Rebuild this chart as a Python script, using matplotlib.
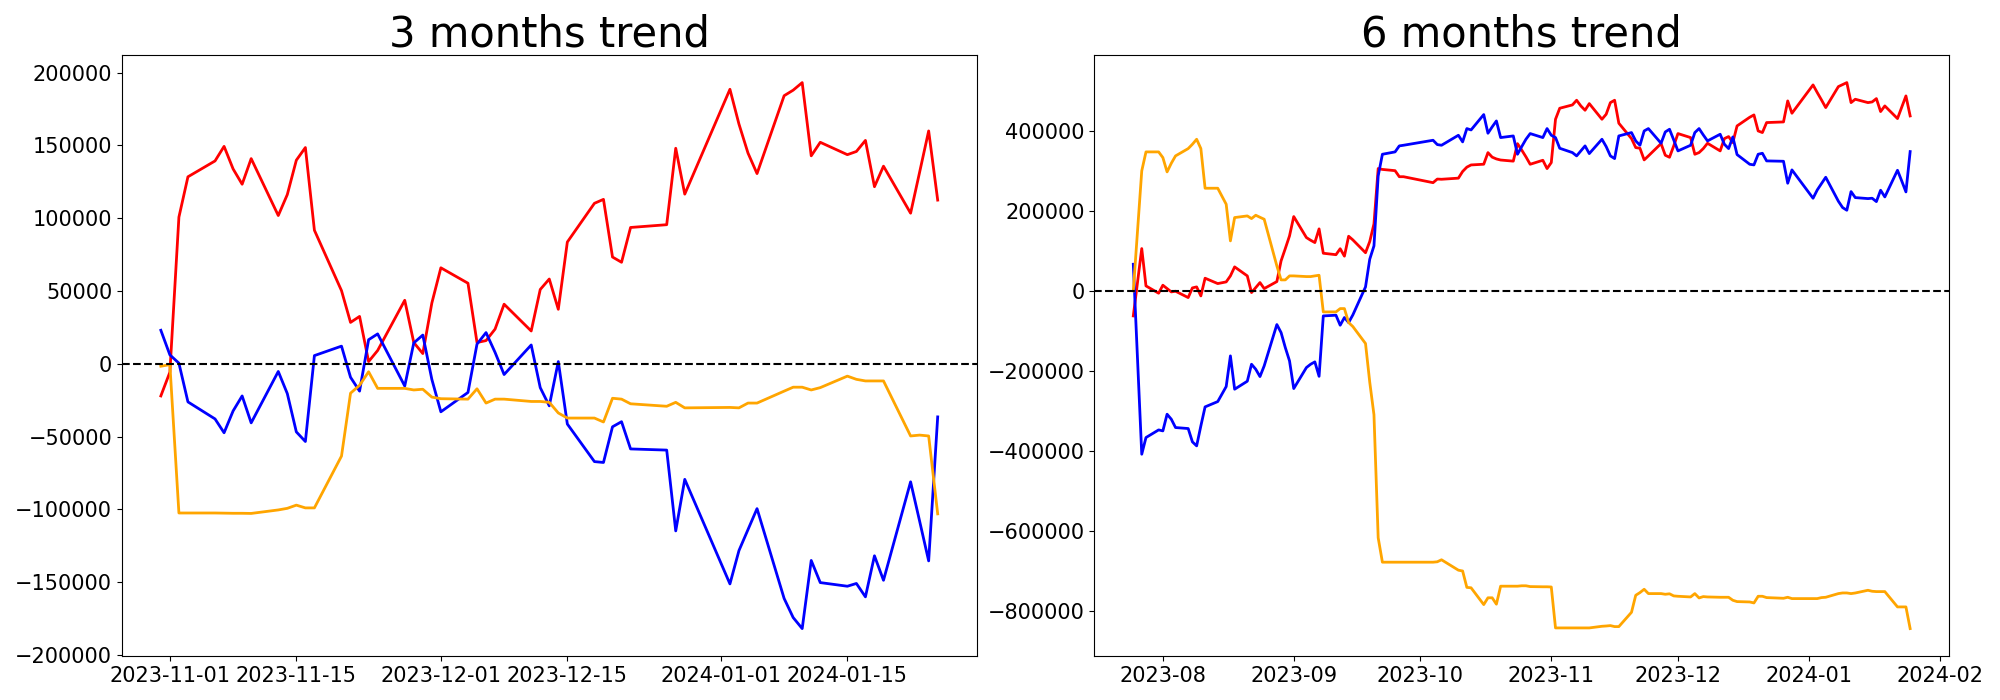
import pandas as pd
import matplotlib
matplotlib.use("Agg")
import matplotlib.pyplot as plt
import matplotlib.dates as mdates

# market closed days inside the window (KRX calendar)
krx_holidays = ["2023-08-15", "2023-09-28", "2023-09-29", "2023-10-02", "2023-10-03",
                "2023-10-09", "2023-12-25", "2023-12-29", "2024-01-01"]

dates_3m = pd.bdate_range("2023-10-31", "2024-01-25", freq="C", holidays=krx_holidays)
dates_6m = pd.bdate_range("2023-07-25", "2024-01-25", freq="C", holidays=krx_holidays)

# ---- 3 months (cumulative net) ----
red_3m = [-22000, -5700, 100800, 128500, 139400, 149400, 133900, 123400, 141000,
          101900, 116300, 139900, 148600, 91800, 50300, 28500, 32600, 1600, 9200,
          43700, 14700, 7100, 41800, 66000, 55400, 14700, 16000, 23900, 41000,
          22600, 51100, 58300, 37500, 83700, 110300, 113000, 73400, 69800, 93700,
          95600, 148100, 116600, 188600, 164700, 144800, 130700,
          184200, 188000, 193200, 142900, 152200, 143700, 145900, 153500, 121700, 135800,
          103500, 131700, 160000, 112500]

blue_3m = [23100, 6200, 500, -26100, -37800, -47300, -32300, -22000, -40500,
           -5200, -20400, -46700, -53300, 5700, 12200, -9200, -18700, 16600, 20600,
           -15200, 14400, 19800, -10600, -32900, -19600, 13600, 21500, 7900, -7300,
           13000, -16300, -28800, 1600, -41300, -67100, -67700, -43200, -39700, -58400,
           -59200, -114700, -79300, -151100, -128200, -113800, -99400,
           -161100, -174200, -181800, -135000, -150200, -152700, -150800, -160000, -131800, -148600,
           -81000, -108000, -135300, -36400]

orange_3m = [-1600, -500, -102400, -102400, -102400, -102500, -102600, -102600, -102700,
             -100300, -99200, -97000, -98900, -98900, -63300, -20100, -14700, -5400, -16800,
             -16800, -17900, -17400, -22800, -23900, -24200, -17100, -26900, -24200, -24200,
             -25800, -25800, -26400, -33700, -37200, -37200, -39900, -23600, -24200, -27400,
             -29100, -26400, -30200, -29900, -30200, -26900, -26900,
             -18700, -16000, -16000, -17900, -16300, -8400, -10600, -11700, -11700, -11700,
             -49500, -48900, -49500, -103000]

# ---- 6 months (cumulative net) ----
red_6m = [-62500, 21700, 105800, 12500, -5800,
          14200, 5800, -2500, -800, -16700, 7500, 10000, -12500, 31700, 18300, 22500,
          37500, 60000, 37500, -4200, 8300, 20800, 5800, 23300, 75000, 105800, 137500,
          185800, 133300, 126600, 120800, 155000, 94100, 90500, 105400, 86800, 136600,
          127500, 95400, 123400, 167500, 305800, 303600, 300500, 285400, 285400,
          270500, 279500, 279000, 281800, 298500, 309300, 314800, 316600, 345600, 334300,
          329800, 327100, 324300, 368000, 352000, 335000, 316500, 326500, 305700,
          320700, 429000, 456500, 464800, 476500, 462300, 451500, 468100, 429000, 441500,
          470600, 476500, 419000, 380700, 358200, 356500, 327400, 337400, 368200, 339000,
          334000, 362400,
          393200, 383200, 341500, 345700, 355700, 369000, 349900, 380700, 385700, 370700,
          412300, 434000, 439800, 399800, 395700, 420700, 422300, 474800, 444000,
          514800, 495600, 477300, 458200, 510600, 515600, 520600, 470600, 479000, 470600,
          472300, 480600, 448200, 462300, 430700, 459000, 487300, 437300]

blue_6m = [66600, -170800, -408200, -366500, -347400,
           -349900, -308200, -320700, -341500, -344000, -377300, -387300, -337400, -289900,
           -276600, -239100, -162400, -245700, -225700, -183300, -195800, -214100, -187400,
           -84100, -104100, -141600, -174900,
           -244100, -191600, -183300, -177400, -213500, -62500, -60800, -85800, -66600,
           -79100, -60000, 10000, 79100, 112500, 287400, 341500, 347400, 362400, 364000,
           376500, 365700, 364000, 389000, 372400, 405700, 402300, 440700, 394000, 410000,
           424800, 383200, 387300, 341500, 360700, 379000, 393200, 383200, 405700,
           389000, 383200, 356500, 345700, 337400, 349900, 362400, 343200, 379000, 360700,
           337400, 330700, 387300, 395700, 374900, 364000, 399800, 405700, 369000, 397300,
           404000, 377300,
           349900, 364000, 395700, 405700, 389800, 374900, 391500, 366500, 355700, 384800,
           340700, 316500, 314900, 341500, 344000, 324900, 324000, 269100, 302400,
           231600, 252400, 268200, 284000, 224100, 208300, 201600, 248200, 233200, 230700,
           231600, 223200, 251600, 234900, 301500, 274900, 247400, 348200]

orange_6m = [0, 150000, 299900, 347400, 347400,
             333200, 297400, 319000, 337400, 355700, 366500, 379000, 355700, 256600, 256600,
             216600, 125000, 183300, 187400, 180800, 189100, 184000, 179100, 62500, 27500,
             27500, 37500,
             37500, 35800, 35800, 37500, 39100, -52500, -52500, -44200, -44200, -79100,
             -89100, -131500, -228000, -309500, -617000, -678000, -678000, -678000, -678000,
             -678000, -677000, -672000, -698000, -700000, -741000, -742000, -784000, -767000,
             -767000, -783000, -738000, -738000, -738000, -737000, -737000, -739000, -739500,
             -739500,
             -740000, -842300, -842300, -842300, -842300, -842300, -842300, -842300, -838200,
             -837500, -836500, -839000, -839000, -803200, -760700, -754000, -745700, -756500,
             -756500, -758200, -757000, -762300,
             -763200, -764900, -756500, -767400, -764000, -764900, -765700, -765700, -765700,
             -773200, -776500, -777400, -779900, -763200, -763200, -766500, -768200, -765700,
             -769000,
             -769000, -769000, -766500, -765700, -756500, -754900, -754900, -756500, -755000,
             -748200, -750700, -751500, -751500, -751500, -789800, -789800, -789800, -844000]


def plot_trend(ax, dates, red, blue, orange, title):
    ax.plot(dates, red, color="red", linewidth=2)
    ax.plot(dates, blue, color="blue", linewidth=2)
    ax.plot(dates, orange, color="orange", linewidth=2)
    ax.axhline(0, color="black", linestyle="--", linewidth=1.5)
    ax.set_title(title, fontsize=30)
    ax.tick_params(labelsize=15)


fig, (ax1, ax2) = plt.subplots(1, 2, figsize=(20, 7), dpi=100)

plot_trend(ax1, dates_3m, red_3m, blue_3m, orange_3m, "3 months trend")
ax1.xaxis.set_major_locator(mdates.DayLocator(bymonthday=[1, 15]))
ax1.xaxis.set_major_formatter(mdates.DateFormatter("%Y-%m-%d"))

plot_trend(ax2, dates_6m, red_6m, blue_6m, orange_6m, "6 months trend")
ax2.xaxis.set_major_locator(mdates.MonthLocator())
ax2.xaxis.set_major_formatter(mdates.DateFormatter("%Y-%m"))

fig.subplots_adjust(left=0.061, right=0.9745, bottom=0.063, top=0.921, wspace=0.138)
fig.savefig("out.png")
